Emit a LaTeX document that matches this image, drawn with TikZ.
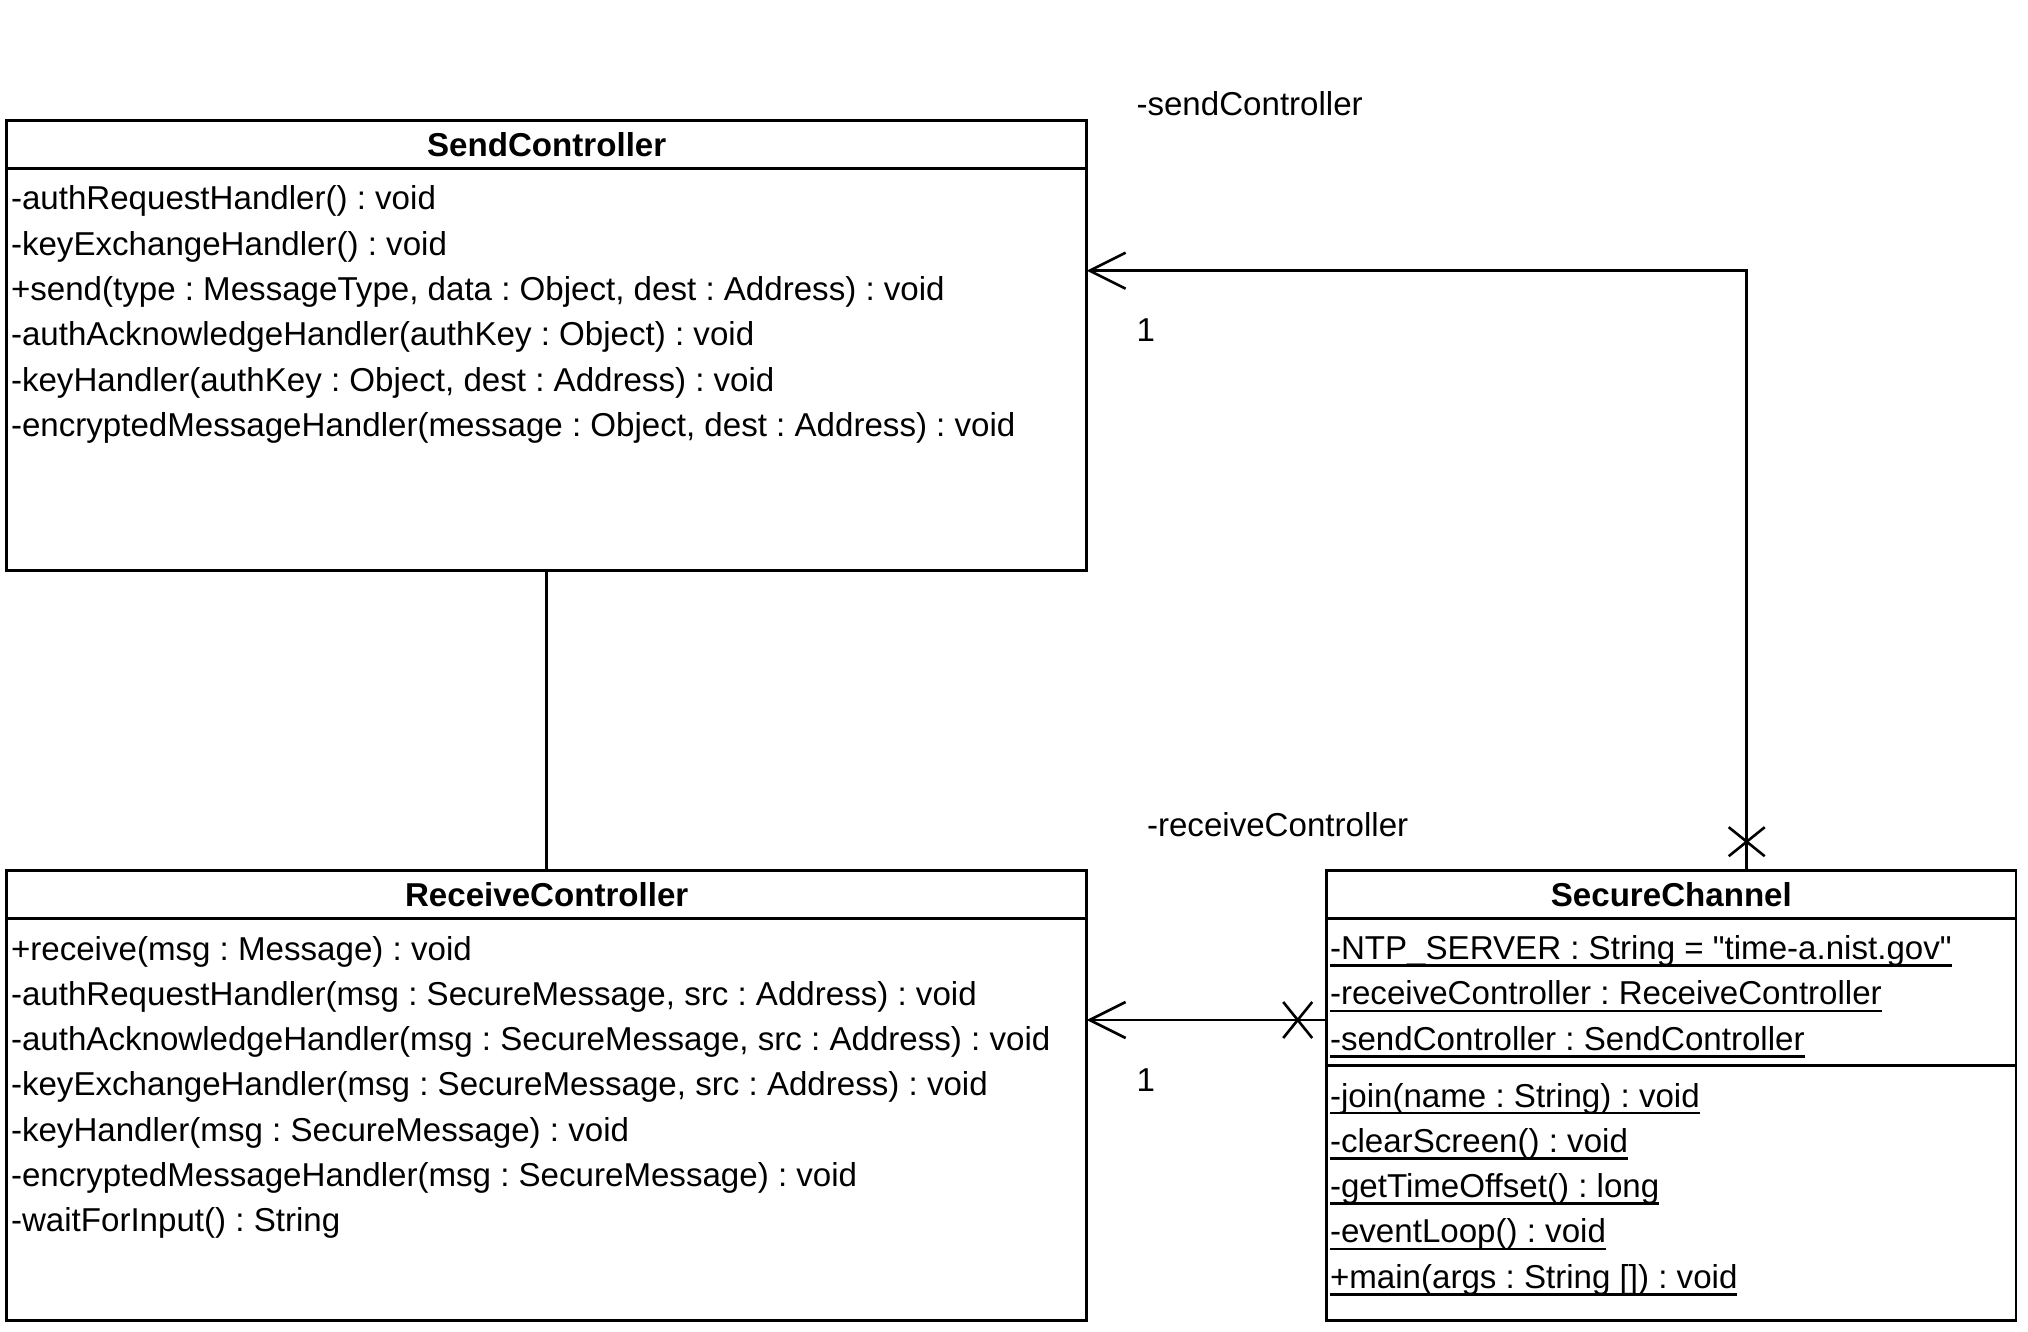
\documentclass[tikz,border=0pt]{standalone}
\usepackage{fontspec}
\setmainfont{Liberation Sans}[Ligatures=TeXOff]
\usetikzlibrary{arrows.meta,calc}
\newcommand\ulx[1]{\setbox0=\hbox{#1}\rlap{\rule[-7.4pt]{\wd0}{2.6pt}}\box0}
\frenchspacing
\begin{document}
\frenchspacing
\begin{tikzpicture}[x=1pt,y=-1pt,
  every node/.style={inner sep=0pt, outer sep=0pt},
  cls/.style={draw, line width=2.6pt, anchor=north west},
  sepline/.style={line width=2.6pt},
  txt/.style={anchor=base west, font=\fontsize{33.1pt}{45.3pt}\selectfont\frenchspacing},
  ttl/.style={anchor=base, font=\fontsize{33.1pt}{45.3pt}\selectfont\bfseries},
  conn/.style={line width=2.6pt},
  assoc/.style={conn, -{Straight Barb[length=36pt,width=36pt]}},
  ]
\fill[white] (0,0) rectangle (2028,1332);
\useasboundingbox (0,0) rectangle (2028,1332);

% ---------- SendController ----------
\node[cls, minimum width=1080pt, minimum height=450pt] (send) at (6.7,120.7) {};
\draw[sepline] ([yshift=-48pt]send.north west) -- ([yshift=-48pt]send.north east);
\node[ttl] (sendT) at ($(send.north)+(0,35.4)$) {SendController};
\node[txt] (s1) at (11,210.0) {-authRequestHandler() : void};
\node[txt] (s2) at (11,255.3) {-keyExchangeHandler() : void};
\node[txt] (s3) at (11,300.6) {+send(type : MessageType, data : Object, dest : Address) : void};
\node[txt] (s4) at (11,345.9) {-authAcknowledgeHandler(authKey : Object) : void};
\node[txt] (s5) at (11,391.2) {-keyHandler(authKey : Object, dest : Address) : void};
\node[txt] (s6) at (11,436.5) {-encryptedMessageHandler(message : Object, dest : Address) : void};

% ---------- ReceiveController ----------
\node[cls, minimum width=1080pt, minimum height=450pt] (recv) at (6.7,870.7) {};
\draw[sepline] ([yshift=-48pt]recv.north west) -- ([yshift=-48pt]recv.north east);
\node[ttl] (recvT) at ($(recv.north)+(0,35.4)$) {ReceiveController};
\node[txt] (r1) at (11,960.0) {+receive(msg : Message) : void};
\node[txt] (r2) at (11,1005.3) {-authRequestHandler(msg : SecureMessage, src : Address) : void};
\node[txt] (r3) at (11,1050.6) {-authAcknowledgeHandler(msg : SecureMessage, src : Address) : void};
\node[txt] (r4) at (11,1095.9) {-keyExchangeHandler(msg : SecureMessage, src : Address) : void};
\node[txt] (r5) at (11,1141.2) {-keyHandler(msg : SecureMessage) : void};
\node[txt] (r6) at (11,1186.5) {-encryptedMessageHandler(msg : SecureMessage) : void};
\node[txt] (r7) at (11,1231.8) {-waitForInput() : String};

% ---------- SecureChannel ----------
\node[cls, minimum width=689.3pt, minimum height=450pt] (sc) at (1326.7,870.7) {};
\draw[sepline] ([yshift=-48pt]sc.north west) -- ([yshift=-48pt]sc.north east);
\draw[sepline] ([yshift=-195pt]sc.north west) -- ([yshift=-195pt]sc.north east);
\node[ttl] (scT) at ($(sc.north)+(0,35.4)$) {SecureChannel};
\node[txt] (a1) at (1330,959.6) {\ulx{-NTP\_SERVER : String = "time-a.nist.gov"}};
\node[txt] (a2) at (1330,1004.9) {\ulx{-receiveController : ReceiveController}};
\node[txt] (a3) at (1330,1050.2) {\ulx{-sendController : SendController}};
\node[txt] (m1) at (1330,1107.0) {\ulx{-join(name : String) : void}};
\node[txt] (m2) at (1330,1152.3) {\ulx{-clearScreen() : void}};
\node[txt] (m3) at (1330,1197.6) {\ulx{-getTimeOffset() : long}};
\node[txt] (m4) at (1330,1242.9) {\ulx{-eventLoop() : void}};
\node[txt] (m5) at (1330,1288.2) {\ulx{+main(args : String []) : void}};

% ---------- connectors ----------
\draw[conn] (send.south) -- (recv.north);

\coordinate (scTop) at ($(sc.north west)+(420,0)$);
\coordinate (sendIn) at ($(send.north east)+(0,150)$);
\draw[assoc] (scTop) |- (sendIn);
\coordinate (xTop) at ($(scTop)+(0,-29)$);
\draw[conn] ($(xTop)+(-18,-14.5)$) -- ($(xTop)+(18,14.5)$);
\draw[conn] ($(xTop)+(-18,14.5)$) -- ($(xTop)+(18,-14.5)$);

\coordinate (scLeft) at ($(sc.north west)+(0,149.3)$);
\coordinate (recvIn) at ($(recv.north east)+(0,149.3)$);
\draw[assoc] (scLeft) -- (recvIn);
\coordinate (xLeft) at ($(scLeft)+(-29,0)$);
\draw[conn] ($(xLeft)+(-14.5,-18)$) -- ($(xLeft)+(14.5,18)$);
\draw[conn] ($(xLeft)+(-14.5,18)$) -- ($(xLeft)+(14.5,-18)$);

% ---------- role labels ----------
\node[txt] (lblSend) at (1136.5,116) {-sendController};
\node[txt] (mulSend) at (1136.5,341.7) {1};
\node[txt] (lblRecv) at (1147,836) {-receiveController};
\node[txt] (mulRecv) at (1136.5,1091.5) {1};
\end{tikzpicture}
\end{document}
